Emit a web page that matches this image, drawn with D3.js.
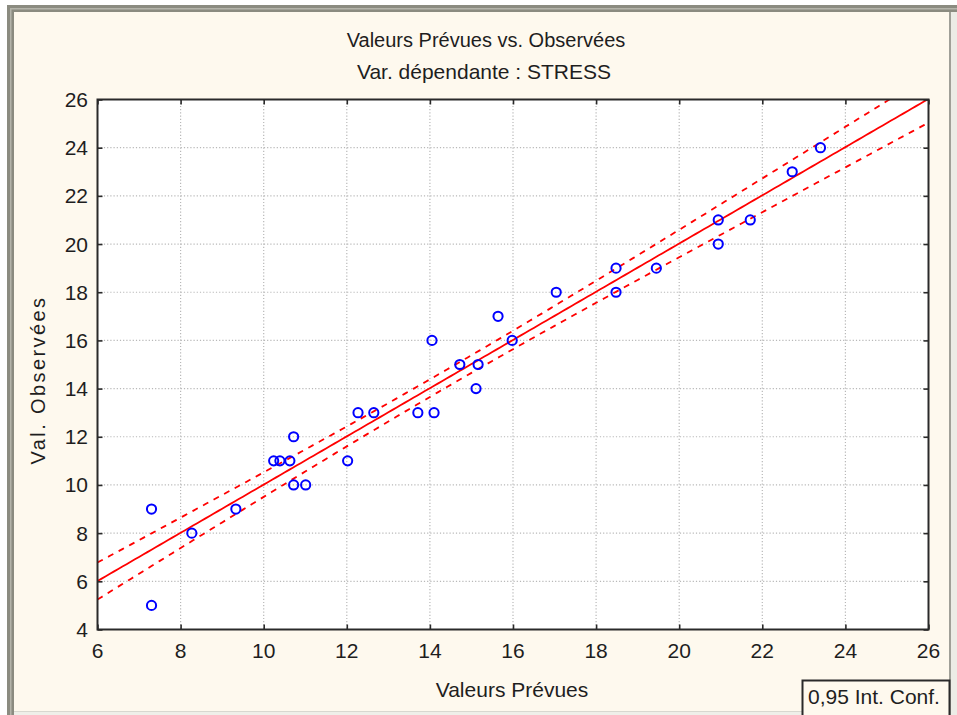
<!DOCTYPE html>
<html><head><meta charset="utf-8">
<script src="https://cdn.jsdelivr.net/npm/d3@7"></script>
<style>
html,body{margin:0;padding:0;background:#fff;}
svg{display:block;font-family:"Liberation Sans",Arial,sans-serif;}
</style></head>
<body>
<svg id="c" width="957" height="715"></svg>
<script>
// ---- data ----
const predicted = [7.30,7.30,8.27,9.33,10.24,10.39,10.63,10.72,10.72,11.01,12.02,12.27,12.65,13.71,14.10,
                   14.05,14.72,15.16,15.11,15.64,15.98,17.04,18.48,18.48,19.45,20.94,20.94,21.71,22.72,23.40];
const observed  = [9,5,8,9,11,11,11,12,10,10,11,13,13,13,13,
                   16,15,15,14,17,16,18,19,18,19,21,20,21,23,24];
const xTicks = [6,8,10,12,14,16,18,20,22,24,26];
const yTicks = [4,6,8,10,12,14,16,18,20,22,24,26];
const titleText = "Valeurs Prévues vs. Observées";
const subtitleText = "Var. dépendante : STRESS";
const xLabel = "Valeurs Prévues";
const yLabel = "Val. Observées";
const legendText = "0,95 Int. Conf.";
const tCrit = 2.048; // t(0.975, df=28) for the 0,95 confidence band

const svg = d3.select("#c");
const W = 957, H = 715;

// outer frame
svg.append("rect").attr("x",7).attr("y",5).attr("width",W-7).attr("height",H-5).attr("fill","#8b8b80");
svg.append("rect").attr("x",949).attr("y",12).attr("width",8).attr("height",H-12).attr("fill","#ecece6");
svg.append("rect").attr("x",949).attr("y",12).attr("width",2).attr("height",H-12).attr("fill","#a0a098");
svg.append("rect").attr("x",10).attr("y",8).attr("width",W-10).attr("height",1.5).attr("fill","#b4b4aa");
svg.append("rect").attr("x",10).attr("y",8).attr("width",1.5).attr("height",H-8).attr("fill","#b4b4aa");
svg.append("rect").attr("x",14).attr("y",12).attr("width",935).attr("height",700).attr("fill","#fef9ee");
svg.append("rect").attr("x",14).attr("y",711).attr("width",935).attr("height",4).attr("fill","#efefe9");
svg.append("rect").attr("x",14).attr("y",711).attr("width",935).attr("height",1).attr("fill","#d8d8d0");

const L = 97.5, R = 928.5, T = 99.5, B = 629.5;
const x = d3.scaleLinear().domain([6,26]).range([L,R]);
const y = d3.scaleLinear().domain([4,26]).range([B,T]);

// plot background
svg.append("rect").attr("x",L).attr("y",T).attr("width",R-L).attr("height",B-T).attr("fill","#fff");

// grid
const g = svg.append("g");
g.selectAll(".gx").data(xTicks.slice(1,-1)).enter().append("line")
  .attr("x1",d=>x(d)).attr("x2",d=>x(d)).attr("y1",T).attr("y2",B)
  .attr("stroke","#b8b8b8").attr("stroke-width",1.2).attr("stroke-dasharray","1.2,2");
g.selectAll(".gy").data(yTicks.slice(1,-1)).enter().append("line")
  .attr("y1",d=>y(d)).attr("y2",d=>y(d)).attr("x1",L).attr("x2",R)
  .attr("stroke","#b8b8b8").attr("stroke-width",1.2).attr("stroke-dasharray","1.2,2");

// regression + confidence band computed from the data
const n = predicted.length;
const mx = d3.mean(predicted), my = d3.mean(observed);
let sxx=0, sxy=0;
for (let i=0;i<n;i++){ sxx += (predicted[i]-mx)**2; sxy += (predicted[i]-mx)*(observed[i]-my); }
const b1 = sxy/sxx, b0 = my - b1*mx;
let sse=0; for (let i=0;i<n;i++){ sse += (observed[i]-(b0+b1*predicted[i]))**2; }
const s = Math.sqrt(sse/(n-2));
const xs = d3.range(6, 26.001, 0.1);
const fit = xs.map(v=>({x:v, y:b0+b1*v}));
const half = v => tCrit*s*Math.sqrt(1/n + (v-mx)**2/sxx);
const upper = xs.map(v=>({x:v, y:b0+b1*v+half(v)}));
const lower = xs.map(v=>({x:v, y:b0+b1*v-half(v)}));

svg.append("clipPath").attr("id","clip").append("rect")
  .attr("x",L).attr("y",T).attr("width",R-L).attr("height",B-T);
const line = d3.line().x(d=>x(d.x)).y(d=>y(d.y));
const lg = svg.append("g").attr("clip-path","url(#clip)");
lg.append("path").datum(fit).attr("d",line).attr("fill","none").attr("stroke","#ff0000").attr("stroke-width",1.8);
[upper,lower].forEach(dd=>{
  lg.append("path").datum(dd).attr("d",line).attr("fill","none").attr("stroke","#ff0000")
    .attr("stroke-width",1.8).attr("stroke-dasharray","6,6");
});

// points
svg.append("g").selectAll("circle").data(predicted.map((p,i)=>[p,observed[i]])).enter().append("circle")
  .attr("cx",d=>x(d[0])).attr("cy",d=>y(d[1])).attr("r",4.6)
  .attr("fill","none").attr("stroke","#0000ff").attr("stroke-width",2);

// frame
svg.append("rect").attr("x",L).attr("y",T).attr("width",R-L).attr("height",B-T)
  .attr("fill","none").attr("stroke","#2a2a2a").attr("stroke-width",2);

// ticks (inside, all four sides) using d3 axes
const tk = 5;
svg.append("g").attr("transform",`translate(0,${B})`)
  .call(d3.axisTop(x).tickValues(xTicks).tickSize(tk).tickFormat(""))
  .call(a=>a.select(".domain").remove());
svg.append("g").attr("transform",`translate(0,${T})`)
  .call(d3.axisBottom(x).tickValues(xTicks).tickSize(tk).tickFormat(""))
  .call(a=>a.select(".domain").remove());
svg.append("g").attr("transform",`translate(${L},0)`)
  .call(d3.axisRight(y).tickValues(yTicks).tickSize(tk).tickFormat(""))
  .call(a=>a.select(".domain").remove());
svg.append("g").attr("transform",`translate(${R},0)`)
  .call(d3.axisLeft(y).tickValues(yTicks).tickSize(tk).tickFormat(""))
  .call(a=>a.select(".domain").remove());
svg.selectAll(".tick line").attr("stroke","#2a2a2a").attr("stroke-width",1.6);

// tick labels
const txtCol = "#1e1e1e";
svg.append("g").selectAll("text").data(xTicks).enter().append("text")
  .attr("x",d=>x(d)).attr("y",658).attr("text-anchor","middle")
  .attr("font-size",21).attr("fill",txtCol).text(d=>d);
svg.append("g").selectAll("text").data(yTicks).enter().append("text")
  .attr("x",88).attr("y",d=>y(d)+7.5).attr("text-anchor","end")
  .attr("font-size",21).attr("fill",txtCol).text(d=>d);

// titles
svg.append("text").attr("x",486).attr("y",47).attr("text-anchor","middle")
  .attr("font-size",20).attr("fill",txtCol).text(titleText);
svg.append("text").attr("x",484).attr("y",79).attr("text-anchor","middle")
  .attr("font-size",21).attr("fill",txtCol).text(subtitleText);
svg.append("text").attr("x",512).attr("y",697).attr("text-anchor","middle")
  .attr("font-size",21).attr("fill",txtCol).text(xLabel);
svg.append("text").attr("transform","translate(45,380) rotate(-90)").attr("text-anchor","middle")
  .attr("font-size",20).attr("letter-spacing",2.4).attr("fill",txtCol).text(yLabel);

// legend box
svg.append("rect").attr("x",802.5).attr("y",680.5).attr("width",147).attr("height",40)
  .attr("fill","#fef9ee").attr("stroke","#2a2a2a").attr("stroke-width",2);
svg.append("text").attr("x",808).attr("y",704).attr("font-size",21).attr("fill",txtCol).text(legendText);
</script>
</body></html>
